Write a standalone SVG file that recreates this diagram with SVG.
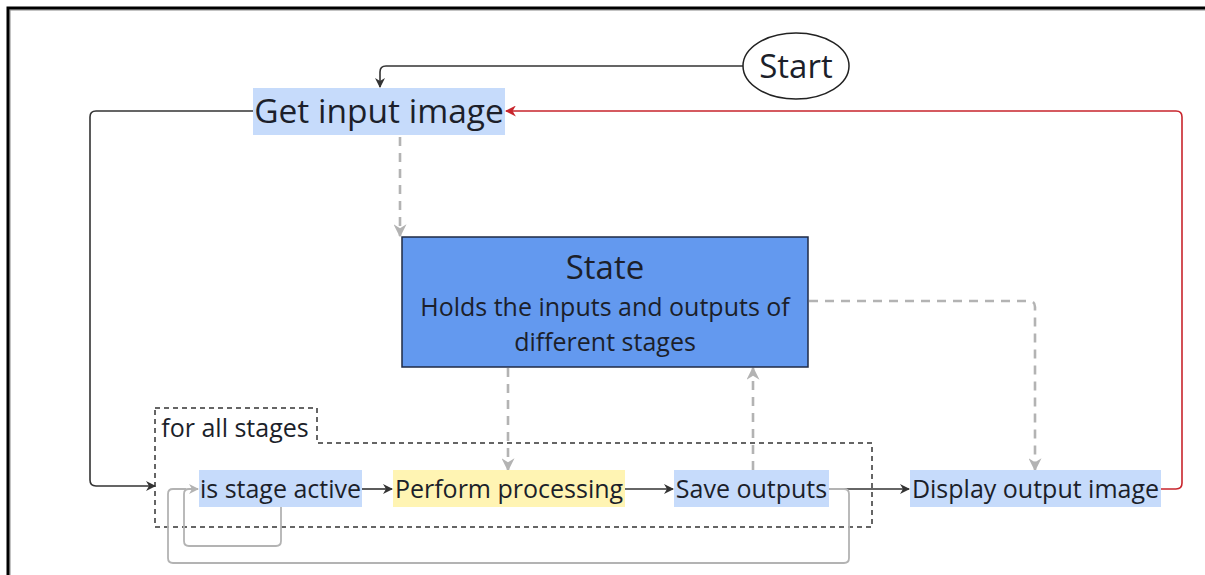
<svg xmlns="http://www.w3.org/2000/svg" width="1205" height="575" viewBox="0 0 1205 575">
<style>
text{font-family:"Open Sans","Noto Sans","Liberation Sans",sans-serif;fill:#1c1f2a}
.lb{fill:#c6dbfb}
.yl{fill:#fff4b3}
.c{fill:none;stroke:#333;stroke-width:1.6}
.g{fill:none;stroke:#b3b3b3;stroke-width:1.8}
.gd{fill:none;stroke:#b3b3b3;stroke-width:2.6;stroke-dasharray:9 7}
.r{fill:none;stroke:#c8252c;stroke-width:1.6}
</style>
<defs>
<marker id="ab" viewBox="0 0 10 10" refX="9" refY="5" markerWidth="10" markerHeight="10" markerUnits="userSpaceOnUse" orient="auto"><path d="M0,0 L10,5 L0,10 L3,5 z" fill="#333"/></marker>
<marker id="ar" viewBox="0 0 10 10" refX="9" refY="5" markerWidth="11" markerHeight="11" markerUnits="userSpaceOnUse" orient="auto"><path d="M0,0 L10,5 L0,10 L3,5 z" fill="#c8252c"/></marker>
<marker id="ag" viewBox="0 0 10 10" refX="9" refY="5" markerWidth="13" markerHeight="13" markerUnits="userSpaceOnUse" orient="auto"><path d="M0,0 L10,5 L0,10 L3,5 z" fill="#b3b3b3"/></marker>
<marker id="ag2" viewBox="0 0 10 10" refX="9" refY="5" markerWidth="10" markerHeight="10" markerUnits="userSpaceOnUse" orient="auto"><path d="M0,0 L10,5 L0,10 L3,5 z" fill="#b3b3b3"/></marker>
</defs>
<rect width="1205" height="575" fill="#fff"/>
<path d="M10,575 V10 H1205" fill="none" stroke="#888" stroke-width="1"/>
<path d="M8,575 V8 H1205" fill="none" stroke="#000" stroke-width="3"/>

<g id="group-for-all-stages">
<path d="M155,408 H317 V443 H872 V527 H155 Z" fill="none" stroke="#333" stroke-width="1.5" stroke-dasharray="5 4"/>
<text x="235" y="437" font-size="25" text-anchor="middle">for all stages</text>
</g>

<g id="connectors">
<path class="c" d="M743,66 H386 Q380,66 380,72 V87" marker-end="url(#ab)"/>
<path class="c" d="M253,111 H96 Q90,111 90,117 V480 Q90,486 96,486 H155" marker-end="url(#ab)"/>
<path class="r" d="M1161,489 H1176 Q1182,489 1182,483 V117 Q1182,111 1176,111 H506" marker-end="url(#ar)"/>
<path class="gd" d="M400,137 V236" marker-end="url(#ag)"/>
<path class="gd" d="M508,368 V470" marker-end="url(#ag)"/>
<path class="gd" d="M753,470 V368" marker-end="url(#ag)"/>
<path class="gd" d="M809,301 H1029 Q1035,301 1035,307 V470" marker-end="url(#ag)"/>
<path class="c" d="M362,489 H392" marker-end="url(#ab)"/>
<path class="c" d="M625,489 H673" marker-end="url(#ab)"/>
<path class="c" d="M829,489 H909" marker-end="url(#ab)"/>
<path class="g" d="M281,507 V541 Q281,546 276,546 H189 Q184,546 184,541 V494 Q184,489 189,489 H198" marker-end="url(#ag2)"/>
<path class="g" d="M829,489 H844 Q849,489 849,494 V558 Q849,563 844,563 H173 Q168,563 168,558 V494 Q168,489 173,489 H186"/>
</g>

<g id="node-start">
<ellipse cx="796" cy="66" rx="53" ry="33" fill="#fff" stroke="#222" stroke-width="1.5"/>
<text x="796" y="78" font-size="33" text-anchor="middle">Start</text>
</g>

<g id="node-get-input">
<rect class="lb" x="253" y="88" width="252" height="47"/>
<text x="379" y="123" font-size="33.5" text-anchor="middle">Get input image</text>
</g>

<g id="node-state">
<rect x="402" y="237" width="406" height="130" fill="#6399ef" stroke="#1f2a44" stroke-width="1.5"/>
<text x="605" y="279" font-size="33" text-anchor="middle">State</text>
<text x="605" y="316" font-size="25" text-anchor="middle">Holds the inputs and outputs of</text>
<text x="605" y="351" font-size="25" text-anchor="middle">different stages</text>
</g>

<g id="node-is-stage-active">
<rect class="lb" x="199" y="470" width="163" height="37"/>
<text x="280.5" y="498" font-size="25" text-anchor="middle">is stage active</text>
</g>

<g id="node-perform">
<rect class="yl" x="393" y="470" width="232" height="37"/>
<text x="509" y="498" font-size="25" text-anchor="middle">Perform processing</text>
</g>

<g id="node-save">
<rect class="lb" x="674" y="470" width="155" height="37"/>
<text x="751.5" y="498" font-size="25" text-anchor="middle">Save outputs</text>
</g>

<g id="node-display">
<rect class="lb" x="910" y="470" width="251" height="37"/>
<text x="1035.5" y="498" font-size="25" text-anchor="middle">Display output image</text>
</g>
</svg>
